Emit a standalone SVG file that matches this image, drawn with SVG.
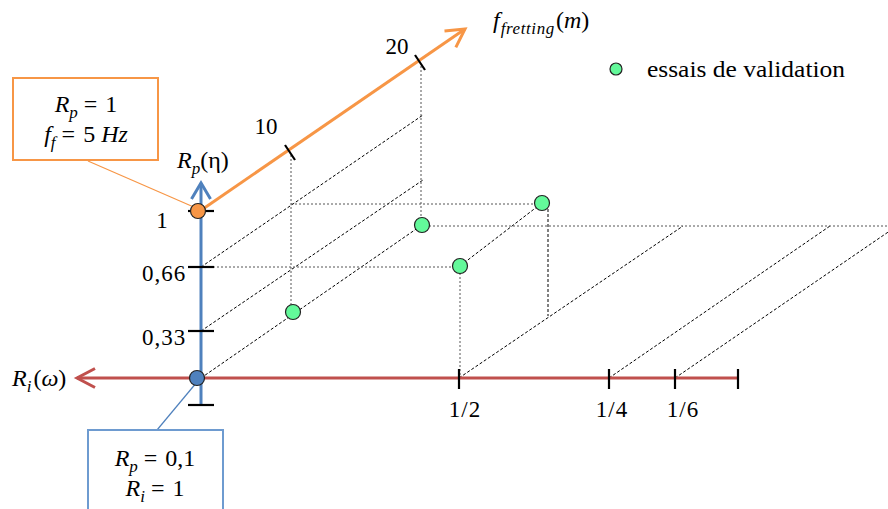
<svg xmlns="http://www.w3.org/2000/svg" width="888" height="509" viewBox="0 0 888 509">
<style>
text{font-family:"Liberation Serif","Times New Roman",serif;fill:#000;}
.m{font-size:24px;}
.n{font-size:23px;}
.i{font-style:italic;}
.sub{font-size:17px;font-style:italic;}
.guide{fill:none;stroke:#000;stroke-width:1;stroke-dasharray:3,2;}
.vg{fill:none;stroke:#555;stroke-width:1;stroke-dasharray:2,2;}
.tick{stroke:#000;stroke-width:2.2;fill:none;}
.pt{fill:#63F99A;stroke:#222;stroke-width:1.2;}
</style>
<defs>
<marker id="ah-blue" markerUnits="userSpaceOnUse" viewBox="-18 -11 20 22" refX="0" refY="0" markerWidth="20" markerHeight="22" orient="auto" overflow="visible"><path d="M-16,-9.5 L0,0 L-16,9.5" fill="none" stroke="#4F81BD" stroke-width="3"/></marker>
<marker id="ah-red" markerUnits="userSpaceOnUse" viewBox="-20 -11 22 22" refX="0" refY="0" markerWidth="22" markerHeight="22" orient="auto" overflow="visible"><path d="M-18,-9.5 L0,0 L-18,9.5" fill="none" stroke="#C0504D" stroke-width="3"/></marker>
<marker id="ah-orange" markerUnits="userSpaceOnUse" viewBox="-20 -11 22 22" refX="0" refY="0" markerWidth="22" markerHeight="22" orient="auto" overflow="visible"><path d="M-18,-10 L0,0 L-18,10" fill="none" stroke="#F79646" stroke-width="3"/></marker>
</defs>

<g id="connectors">
  <g id="guides">
    <line class="guide" x1="201" y1="378" x2="422" y2="225"/>
    <line class="guide" x1="201" y1="331" x2="423" y2="180"/>
    <line class="guide" x1="201" y1="267" x2="423" y2="115"/>
    <line class="guide" x1="459" y1="378" x2="683" y2="226"/>
    <line class="guide" x1="609" y1="378" x2="830" y2="226"/>
    <line class="guide" x1="675" y1="378" x2="897" y2="226"/>
    <line class="guide" x1="460" y1="266" x2="542" y2="203"/>
    <line class="vg" x1="291" y1="155" x2="291" y2="305"/>
    <line class="vg" x1="421" y1="66" x2="421" y2="218"/>
    <line class="vg" x1="460" y1="273" x2="460" y2="378"/>
    <line class="guide" x1="548" y1="209" x2="548" y2="316"/>
    <line class="vg" x1="291" y1="204" x2="536" y2="204"/>
    <line class="vg" x1="201" y1="267" x2="453" y2="267"/>
    <line class="vg" x1="429" y1="226" x2="888" y2="226"/>
  </g>
  <line id="leader-orange" x1="88" y1="161" x2="196" y2="208" stroke="#F79646" stroke-width="1.2"/>
  <line id="leader-blue" x1="157" y1="430" x2="197" y2="382" stroke="#4F81BD" stroke-width="1.2"/>
</g>

<g id="axis-ri">
  <line x1="738" y1="378" x2="77" y2="378" stroke="#C0504D" stroke-width="3" marker-end="url(#ah-red)"/>
  <line class="tick" x1="459" y1="369" x2="459" y2="389"/>
  <line class="tick" x1="609" y1="369" x2="609" y2="389"/>
  <line class="tick" x1="675" y1="369" x2="675" y2="389"/>
  <line class="tick" x1="738" y1="369" x2="738" y2="389"/>
  <text class="n" x="465" y="417" text-anchor="middle" letter-spacing="1">1/2</text>
  <text class="n" x="612" y="417" text-anchor="middle" letter-spacing="1">1/4</text>
  <text class="n" x="683" y="417" text-anchor="middle" letter-spacing="1">1/6</text>
  <text class="m" x="12" y="386"><tspan class="i">R</tspan><tspan class="sub" dy="6">i</tspan><tspan dy="-6" dx="2">(</tspan><tspan class="i">ω</tspan>)</text>
</g>

<g id="axis-rp">
  <line x1="201" y1="405" x2="201" y2="183" stroke="#4F81BD" stroke-width="3" marker-end="url(#ah-blue)"/>
  <line class="tick" x1="188" y1="405" x2="214" y2="405"/>
  <line class="tick" x1="188" y1="211" x2="214" y2="211"/>
  <line class="tick" x1="188" y1="267" x2="214" y2="267"/>
  <line class="tick" x1="188" y1="331" x2="214" y2="331"/>
  <text class="n" x="162" y="228" text-anchor="middle">1</text>
  <text class="n" x="164" y="281" text-anchor="middle" letter-spacing="1">0,66</text>
  <text class="n" x="164" y="345" text-anchor="middle" letter-spacing="1">0,33</text>
  <text class="m" x="177" y="168"><tspan class="i">R</tspan><tspan class="sub" dy="6">p</tspan><tspan dy="-6">(η)</tspan></text>
</g>

<g id="axis-ff">
  <line x1="200" y1="211" x2="465" y2="29" stroke="#F79646" stroke-width="3" marker-end="url(#ah-orange)"/>
  <line class="tick" x1="285" y1="145" x2="295" y2="160"/>
  <line class="tick" x1="415" y1="55" x2="425" y2="70"/>
  <text class="n" x="266" y="134" text-anchor="middle">10</text>
  <text class="n" x="397" y="54" text-anchor="middle">20</text>
  <text class="m" x="493" y="28"><tspan class="i">f</tspan><tspan class="sub" dy="6" dx="1" letter-spacing="0.6">fretting</tspan><tspan dy="-6" dx="1">(</tspan><tspan class="i">m</tspan>)</text>
</g>

<g id="point-origin">
  <circle cx="197" cy="378" r="7.5" fill="#4F81BD" stroke="#222" stroke-width="1.2"/>
</g>
<g id="point-top">
  <circle cx="198" cy="211" r="7.5" fill="#F79646" stroke="#222" stroke-width="1.2"/>
</g>

<g id="validation-points">
  <circle class="pt" cx="293" cy="312" r="7.5"/>
  <circle class="pt" cx="422" cy="225" r="7.5"/>
  <circle class="pt" cx="460" cy="266" r="7.5"/>
  <circle class="pt" cx="542" cy="203" r="7.5"/>
</g>

<g id="callout-orange">
  <rect x="13" y="78" width="145" height="82" fill="#fff" stroke="#F79646" stroke-width="2"/>
  <text class="m" x="86" y="112" text-anchor="middle"><tspan class="i">R</tspan><tspan class="sub" dy="6">p</tspan><tspan dy="-6" dx="6">=</tspan><tspan dx="8">1</tspan></text>
  <text class="m" x="86" y="142" text-anchor="middle"><tspan class="i">f</tspan><tspan class="sub" dy="6">f</tspan><tspan dy="-6" dx="6">=</tspan><tspan dx="8">5</tspan><tspan class="i" dx="6">Hz</tspan></text>
</g>

<g id="callout-blue">
  <rect x="88" y="430" width="135" height="85" fill="#fff" stroke="#6E9BD0" stroke-width="2"/>
  <text class="m" x="155" y="466" text-anchor="middle"><tspan class="i">R</tspan><tspan class="sub" dy="6">p</tspan><tspan dy="-6" dx="6">=</tspan><tspan dx="8">0,1</tspan></text>
  <text class="m" x="155" y="496" text-anchor="middle"><tspan class="i">R</tspan><tspan class="sub" dy="6">i</tspan><tspan dy="-6" dx="6">=</tspan><tspan dx="8">1</tspan></text>
</g>

<g id="legend">
  <circle class="pt" cx="616" cy="69" r="6"/>
  <text class="m" x="647" y="77" textLength="198" lengthAdjust="spacingAndGlyphs">essais de validation</text>
</g>
</svg>
